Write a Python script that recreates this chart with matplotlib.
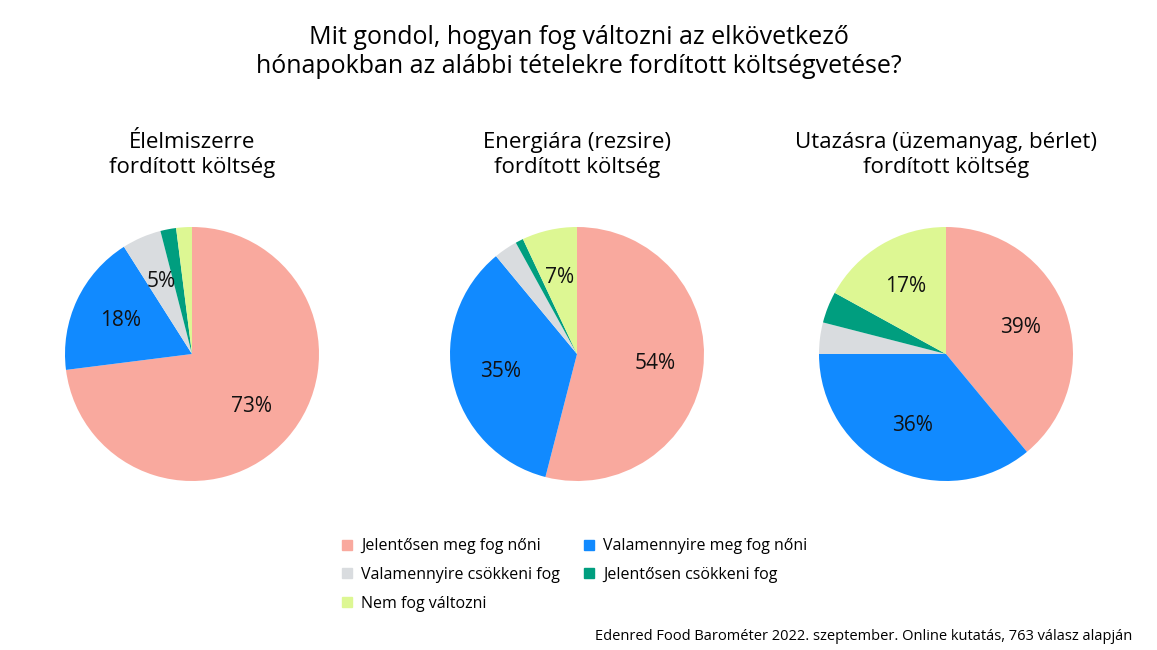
import matplotlib.pyplot as plt
from matplotlib.patches import Patch

plt.rcParams['font.family'] = ['Open Sans', 'DejaVu Sans']

categories = ["Jelentősen meg fog nőni", "Valamennyire meg fog nőni",
              "Valamennyire csökkeni fog", "Jelentősen csökkeni fog", "Nem fog változni"]
colors = ["#F9A99E", "#118AFF", "#D9DCDF", "#009E7F", "#DDF793"]
titles = ["Élelmiszerre\nfordított költség",
          "Energiára (rezsire)\nfordított költség",
          "Utazásra (üzemanyag, bérlet)\nfordított költség"]
values = [
    [73, 18, 5, 2, 2],
    [54, 35, 3, 1, 7],
    [39, 36, 4, 4, 17],
]
centers = [192, 577, 946]

W, H = 1157, 650
fig = plt.figure(figsize=(W / 100, H / 100), dpi=100)
r = 127
cy = 354
for vals, cx, title in zip(values, centers, titles):
    ax = fig.add_axes([(cx - r) / W, (H - cy - r) / H, 2 * r / W, 2 * r / H])
    ax.pie(vals, colors=colors, startangle=90, counterclock=False, radius=1,
           autopct=lambda p: f"{p:.0f}%" if p >= 4.5 else "",
           pctdistance=0.62, textprops={'fontsize': 15, 'color': '#111111'},
           wedgeprops={'linewidth': 0})
    ax.set_xlim(-1, 1)
    ax.set_ylim(-1, 1)
    ax.set_aspect('equal')
    fig.text(cx / W, 1 - 155 / H, title, ha='center', va='center', fontsize=16,
             linespacing=1.3)

fig.text(0.5, 1 - 52 / H,
         "Mit gondol, hogyan fog változni az elkövetkező\nhónapokban az alábbi tételekre fordított költségvetése?",
         ha='center', va='center', fontsize=18, linespacing=1.25)

handles = [Patch(color=c, label=l) for c, l in zip(colors, categories)]
order = [0, 2, 4, 1, 3]
fig.legend(handles=[handles[i] for i in order], ncol=2, loc='center',
           bbox_to_anchor=(575 / W, 1 - 575 / H),
           frameon=False, fontsize=11.5, handlelength=0.6, handleheight=0.6,
           columnspacing=1.5, labelspacing=0.8, handletextpad=0.6)

fig.text(1 - 25 / W, 1 - 636 / H,
         "Edenred Food Barométer 2022. szeptember. Online kutatás, 763 válasz alapján",
         ha='right', va='center', fontsize=10.5)

fig.savefig("out.png", dpi=100)
